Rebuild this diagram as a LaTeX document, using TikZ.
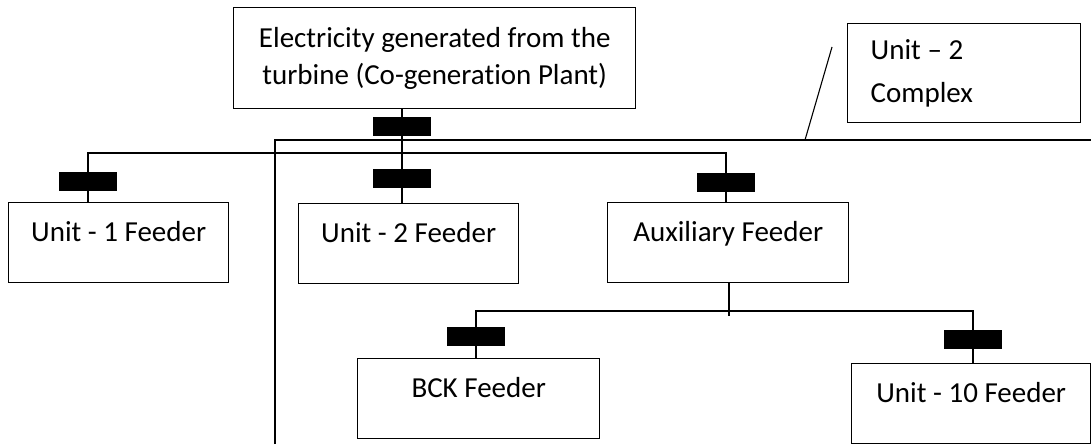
\documentclass[tikz,border=0pt]{standalone}
\usepackage{fontspec}
\setmainfont{Carlito}[Ligatures=NoCommon]
\begin{document}
\begin{tikzpicture}[x=1pt,y=-1pt,
  box/.style={draw, line width=1.4pt, inner sep=0pt, anchor=north west},
  feeder/.style={box, text height=39pt, text depth=41pt},
  wire/.style={line width=1.1pt},
  frame/.style={line width=1.5pt},
  brk/.style={fill=black, draw=none, minimum width=58pt, minimum height=19pt, inner sep=0pt},
  font=\fontsize{29}{37}\selectfont]
\useasboundingbox (0,0) rectangle (1091,444);

% complex boundary
\coordinate (c1) at (275,444);
\coordinate (c2) at (275,140);
\coordinate (c3) at (1091,140);
\draw[frame] (c1) -- (c2) -- (c3);
\coordinate (d1) at (805,140);
\coordinate (d2) at (832,47);
\draw[wire] (d1) -- (d2);

% boxes
\node[box, minimum width=402pt, minimum height=101pt, align=center] (gen) at (233,7)
  {Electricity generated from the\\turbine (Co-generation Plant)};
\node[box, minimum width=233pt, minimum height=99pt, align=left, text width=187pt,
  font=\fontsize{29}{43}\selectfont] (cx) at (847,23) {Unit\kern-3pt{} – \kern-3pt{}2\\Complex};
\node[feeder, minimum width=220pt] (u1) at (8,202) {Unit - 1 Feeder};
\node[feeder, minimum width=220pt] (u2) at (298,203) {Unit - 2 Feeder};
\node[feeder, minimum width=241pt] (aux) at (607,202) {Auxiliary Feeder};
\node[feeder, minimum width=242pt] (bck) at (357,358) {BCK Feeder};
\node[feeder, minimum width=239pt] (u10) at (851,363) {Unit - 10 Feeder};

% breakers
\node[brk] (k0) at (402,126.5) {};
\node[brk] (k2) at (402,178.5) {};
\node[brk] (k1) at (88,181.5) {};
\node[brk] (ka) at (726,182) {};
\node[brk] (kb) at (476,336.5) {};
\node[brk] (k10) at (973,339) {};

% connectors
\coordinate (bus) at (0,153);
\coordinate (abus) at (0,311);
\coordinate (auxend) at (729,316);
\draw[wire] (gen.south -| k0) -- (u2.north -| k0);
\draw[wire] (u1.north -| k1) -- (k1 |- bus) -- (ka |- bus) -- (aux.north -| ka);
\draw[wire] (aux.south -| auxend) -- (auxend);
\draw[wire] (bck.north -| kb) -- (kb |- abus) -- (k10 |- abus) -- (u10.north -| k10);
\end{tikzpicture}
\end{document}
